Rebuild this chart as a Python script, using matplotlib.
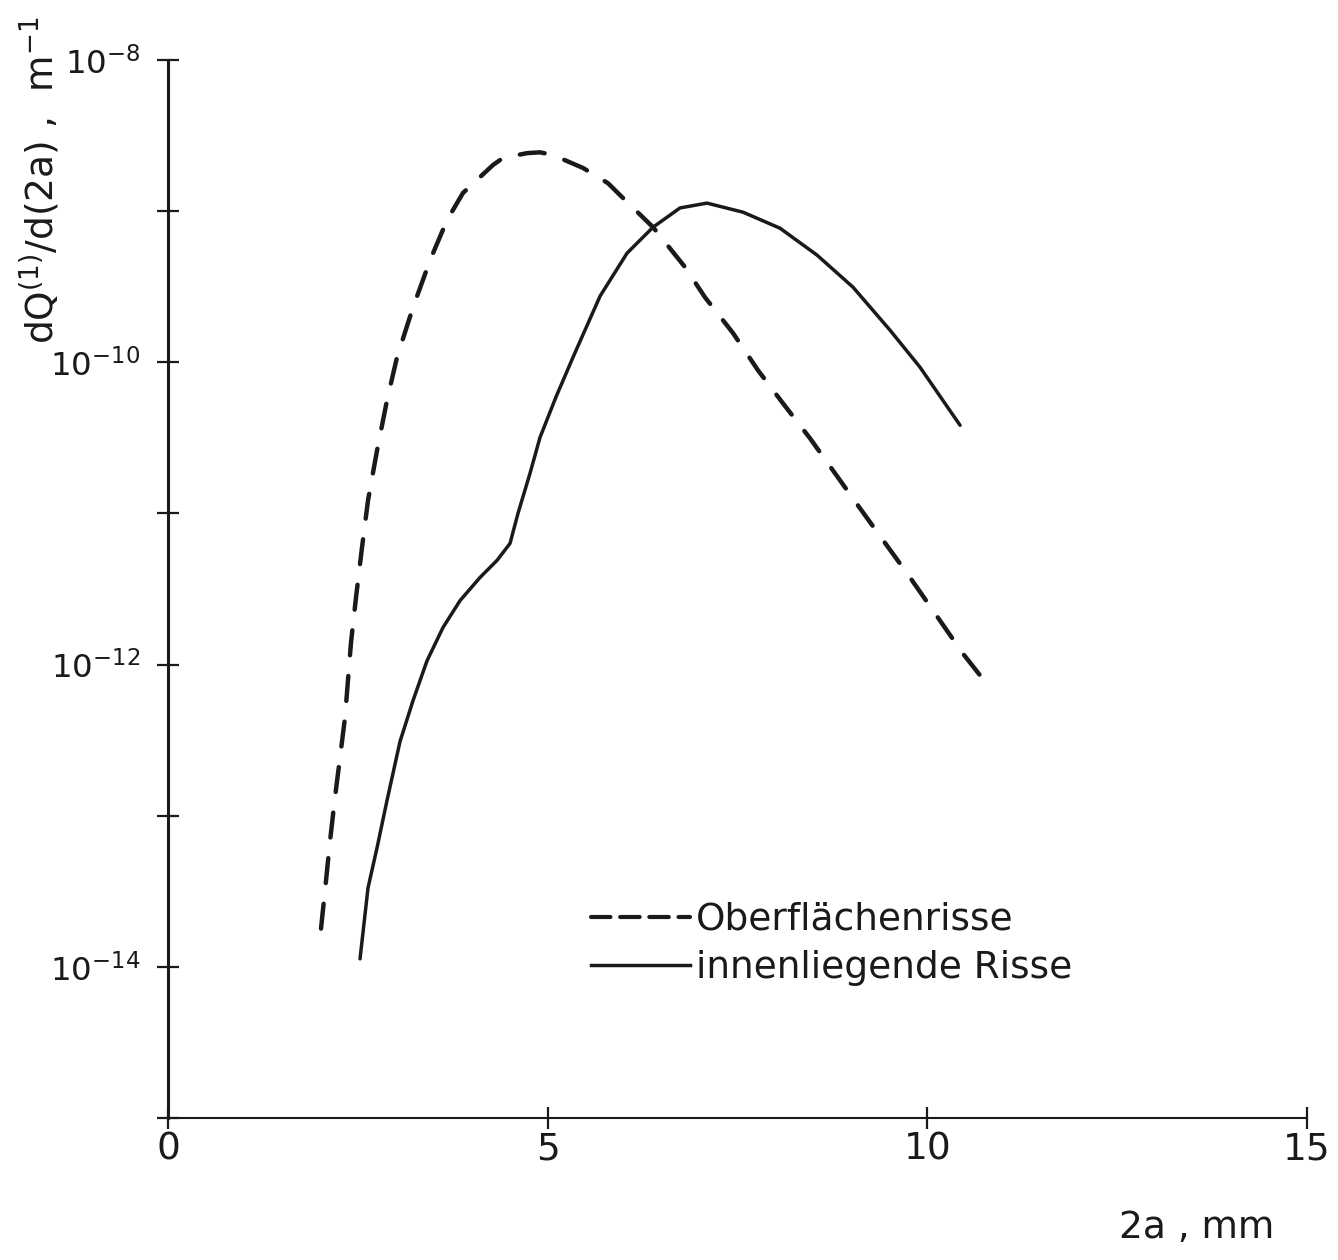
import matplotlib
matplotlib.use("Agg")
from matplotlib import pyplot as plt
from matplotlib import font_manager
from matplotlib.lines import Line2D

# crack length 2a in mm, dQ(1)/d(2a) in 1/m
x_ober = [2.015, 2.081, 2.134, 2.199, 2.265, 2.331, 2.410, 2.476, 2.555, 2.634, 2.753,
          2.884, 3.016, 3.227, 3.451, 3.674, 3.885, 4.280, 4.412, 4.728, 4.899, 5.071,
          5.466, 5.795, 6.045, 6.388, 6.809, 7.072, 7.441, 7.770, 8.099, 8.455, 9.114,
          9.772, 10.470, 10.852]
y_ober = [1.79e-14, 3.72e-14, 6.82e-14, 1.32e-13, 2.42e-13, 4.46e-13, 1.40e-12, 2.78e-12,
          5.96e-12, 1.22e-11, 2.61e-11, 5.60e-11, 1.08e-10, 2.31e-10, 4.73e-10, 8.71e-10,
          1.32e-9, 2.02e-9, 2.25e-9, 2.42e-9, 2.45e-9, 2.35e-9, 1.93e-9, 1.53e-9, 1.15e-9,
          7.83e-10, 4.26e-10, 2.69e-10, 1.56e-10, 8.85e-11, 5.35e-11, 3.14e-11, 1.08e-11,
          3.77e-12, 1.18e-12, 6.73e-13]

x_innen = [2.529, 2.634, 2.753, 2.884, 3.055, 3.227, 3.411, 3.622, 3.846, 4.109, 4.333,
           4.504, 4.609, 4.767, 4.899, 5.110, 5.334, 5.690, 6.045, 6.388, 6.743, 7.098,
           7.573, 8.060, 8.547, 9.021, 9.509, 9.904, 10.431]
y_innen = [1.13e-14, 3.33e-14, 6.14e-14, 1.26e-13, 3.09e-13, 5.78e-13, 1.06e-12, 1.76e-12,
           2.65e-12, 3.77e-12, 4.89e-12, 6.33e-12, 1.00e-11, 1.84e-11, 3.18e-11, 5.9e-11,
           1.08e-10, 2.74e-10, 5.27e-10, 7.83e-10, 1.05e-9, 1.13e-9, 9.84e-10, 7.71e-10,
           5.12e-10, 3.14e-10, 1.63e-10, 9.27e-11, 3.83e-11]

x_ticks = [0, 5, 10, 15]
y_ticks = [1e-15, 1e-14, 1e-13, 1e-12, 1e-11, 1e-10, 1e-9, 1e-8]
y_exps = {1e-14: "-14", 1e-12: "-12", 1e-10: "-10", 1e-8: "-8"}

# narrow font looks closer to the drawing lettering, fall back if missing
try:
    font_manager.findfont(font_manager.FontProperties(family="Liberation Sans Narrow"),
                          fallback_to_default=False)
    fam = "Liberation Sans Narrow"
    k = 1.0
except Exception:
    fam = "DejaVu Sans"
    k = 0.9

plt.rcParams["font.family"] = [fam, "DejaVu Sans"]
plt.rcParams["mathtext.fontset"] = "custom"
plt.rcParams["mathtext.rm"] = fam
plt.rcParams["mathtext.it"] = fam
plt.rcParams["mathtext.bf"] = fam
plt.rcParams["lines.scale_dashes"] = False

ink = "#1a1a1a"
fig = plt.figure(figsize=(13.38, 12.6), dpi=100)
ax = fig.add_axes([168 / 1338, 1 - 1118 / 1260, (1307 - 168) / 1338, (1118 - 60) / 1260])

ax.plot(x_ober, y_ober, color=ink, lw=3.2, dashes=(18, 15), dash_capstyle="round")
ax.plot(x_innen, y_innen, color=ink, lw=2.5, solid_capstyle="round")

ax.set_yscale("log")
ax.set_xlim(0, 15)
ax.set_ylim(1e-15, 1e-8)
ax.spines["top"].set_visible(False)
ax.spines["right"].set_visible(False)
ax.spines["left"].set_linewidth(2.2)
ax.spines["bottom"].set_linewidth(1.5)
ax.spines["left"].set_color(ink)
ax.spines["bottom"].set_color(ink)

ax.set_xticks(x_ticks)
ax.set_xticklabels([str(t) for t in x_ticks], fontsize=30 * k)
ax.set_yticks(y_ticks)
ax.set_yticklabels([r"$10^{%s}$" % y_exps[t] if t in y_exps else "" for t in y_ticks],
                   fontsize=26 * k)
ax.yaxis.set_minor_locator(matplotlib.ticker.NullLocator())
ax.tick_params(axis="both", direction="inout", length=16, width=1.6, colors=ink)
ax.tick_params(axis="x", pad=2)
ax.tick_params(axis="y", pad=12)

fig.text(40 / 1338, 1 - 180 / 1260, r"dQ$^{(1)}$/d(2a) ,  m$^{-1}$", rotation=90,
         fontsize=30 * k, ha="center", va="center", color=ink)
fig.text(1197 / 1338, 1 - 1228 / 1260, "2a , mm", fontsize=30 * k, ha="center",
         va="center", color=ink)

handles = [Line2D([], [], color=ink, lw=3.0, dashes=(14, 7), dash_capstyle="round"),
           Line2D([], [], color=ink, lw=2.5)]
ax.legend(handles, ["Oberflächenrisse", "innenliegende Risse"], loc="upper left",
          bbox_to_anchor=(591 / 1338, 1 - 902 / 1260), bbox_transform=fig.transFigure,
          frameon=False, fontsize=30 * k, handlelength=2.65, handletextpad=0.15,
          borderpad=0, borderaxespad=0, labelspacing=0.32, labelcolor=ink)

fig.savefig("out.png", dpi=100, facecolor="white")
